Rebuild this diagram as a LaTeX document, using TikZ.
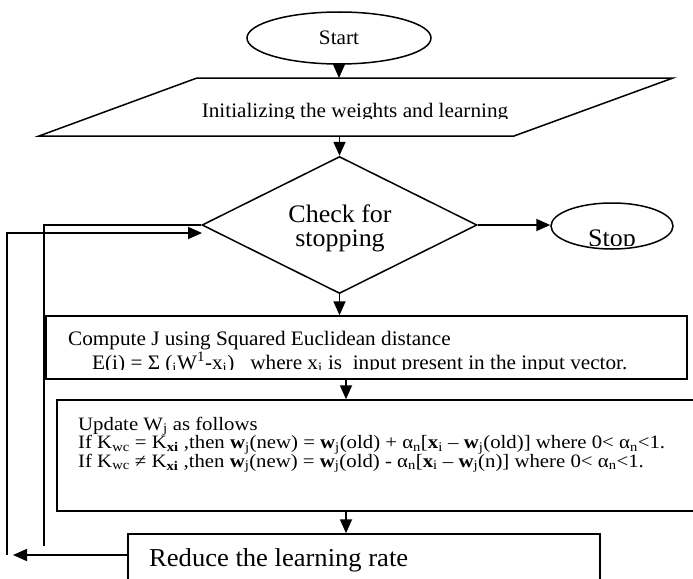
\documentclass[tikz,border=0pt]{standalone}
\usepackage{fontspec}
\setmainfont{Liberation Serif}[FakeStretch=1.03]
\newfontfamily\updfamily{Liberation Serif}[FakeStretch=1.1]
\usetikzlibrary{shapes.geometric,arrows.meta}
\begin{document}
\begin{tikzpicture}[x=1pt,y=-1pt,
  shapeline/.style={draw=black,line width=1.5pt},
  conn/.style={draw=black,line width=1.8pt},
  arr/.style={conn,-{Triangle[length=14pt,width=12pt]}},
  txt/.style={inner sep=0pt,anchor=base west,text=black},
  ctxt/.style={inner sep=0pt,anchor=base,text=black},
  smallfont/.style={font=\fontsize{20.6}{22}\selectfont},
  updfont/.style={font=\updfamily\fontsize{18.9}{19}\selectfont},
  bigfont/.style={font=\fontsize{25.2}{27}\selectfont},
]
\fill[white] (0,0) rectangle (693,578);
\useasboundingbox (0,0) rectangle (693,578);
\clip (0,0) rectangle (693,578);

% Start
\node[shapeline, ellipse, minimum width=184pt, minimum height=52pt, inner sep=0pt, smallfont] (start) at (339,38) {Start};

% Parallelogram (input)
\coordinate (pTL) at (197,78);
\coordinate (pTR) at (673,78);
\coordinate (pBR) at (514,136);
\coordinate (pBL) at (39,136);
\draw[shapeline] (pTL) -- (pTR) -- (pBR) -- (pBL) -- cycle;
\begin{scope}
  \clip (150,80) rectangle (600,118.5);
  \node[ctxt, smallfont] (inittxt) at (355,117.5) {Initializing the weights and learning};
\end{scope}

% Decision
\node[shapeline, diamond, minimum width=275pt, minimum height=137pt, inner sep=0pt] (dia) at (339.5,225) {};
\node[ctxt, bigfont] (chkA) at (340,222) {Check for};
\node[ctxt, bigfont] (chkB) at (340,246) {stopping};

% Stop
\node[shapeline, ellipse, minimum width=122pt, minimum height=46pt, inner sep=0pt] (stop) at (612,226) {};
\begin{scope}
  \clip (560,200) rectangle (670,245.5);
  \node[ctxt, bigfont] (stoptxt) at (612,246) {Stop};
\end{scope}

% Compute box
\node[shapeline, rectangle, minimum width=641pt, minimum height=63pt, inner sep=0pt] (comp) at (366.5,347.5) {};
\node[txt, smallfont] (compA) at (68,345) {Compute J using Squared Euclidean distance};
\begin{scope}
  \clip (48,350) rectangle (685,369.5);
  \node[txt, smallfont] (compB) at (92,369.5) {E(i) = Σ (\textsubscript{i}W\textsuperscript{1}-x\textsubscript{i})\ \ \ where x\textsubscript{i} is\ \ input present in the input vector.};
\end{scope}

% Update box
\node[shapeline, rectangle, minimum width=660pt, minimum height=111pt, inner sep=0pt] (upd) at (387,455.5) {};
\node[txt, updfont] (updA) at (78,430) {Update W\textsubscript{j} as follows};
\node[txt, updfont] (updB) at (78,448.5) {If K\textsubscript{wc} = K\textsubscript{\textbf{xi}} ,then \textbf{w}\textsubscript{j}(new) = \textbf{w}\textsubscript{j}(old) + α\textsubscript{n}[\textbf{x}\textsubscript{i} – \textbf{w}\textsubscript{j}(old)] where 0< α\textsubscript{n}<1.};
\node[txt, updfont] (updC) at (78,467) {If K\textsubscript{wc} ≠ K\textsubscript{\textbf{xi}} ,then \textbf{w}\textsubscript{j}(new) = \textbf{w}\textsubscript{j}(old) - α\textsubscript{n}[\textbf{x}\textsubscript{i} – \textbf{w}\textsubscript{j}(n)] where 0< α\textsubscript{n}<1.};

% Reduce box
\node[shapeline, rectangle, minimum width=472pt, minimum height=80pt, inner sep=0pt] (red) at (364,574) {};
\node[txt, font=\fontsize{25.8}{28}\selectfont] (redtxt) at (149,566) {Reduce the learning rate};

% Connectors
\coordinate (axis) at (346,0);
\draw[arr] (start.south) -- (start.south |- pTL);
\draw[arr] (pBL -| dia.north) -- (dia.north);
\draw[arr] (dia.east) -- (dia.east -| stop.west);
\draw[arr] (dia.south) -- (dia.south |- comp.north);
\draw[arr] (comp.south -| axis) -- (upd.north -| axis);
\draw[arr] (upd.south -| axis) -- (red.north -| axis);

% Loop back
\coordinate (lb) at (7,555);
\coordinate (tipL) at (13,555);
\coordinate (tipD) at (202,233);
\coordinate (ib) at (44,546);
\draw[arr] (lb -| red.west) -- (tipL);
\draw[arr] (lb) |- (tipD);
\draw[conn] (ib) |- (dia.west);
\end{tikzpicture}
\end{document}
